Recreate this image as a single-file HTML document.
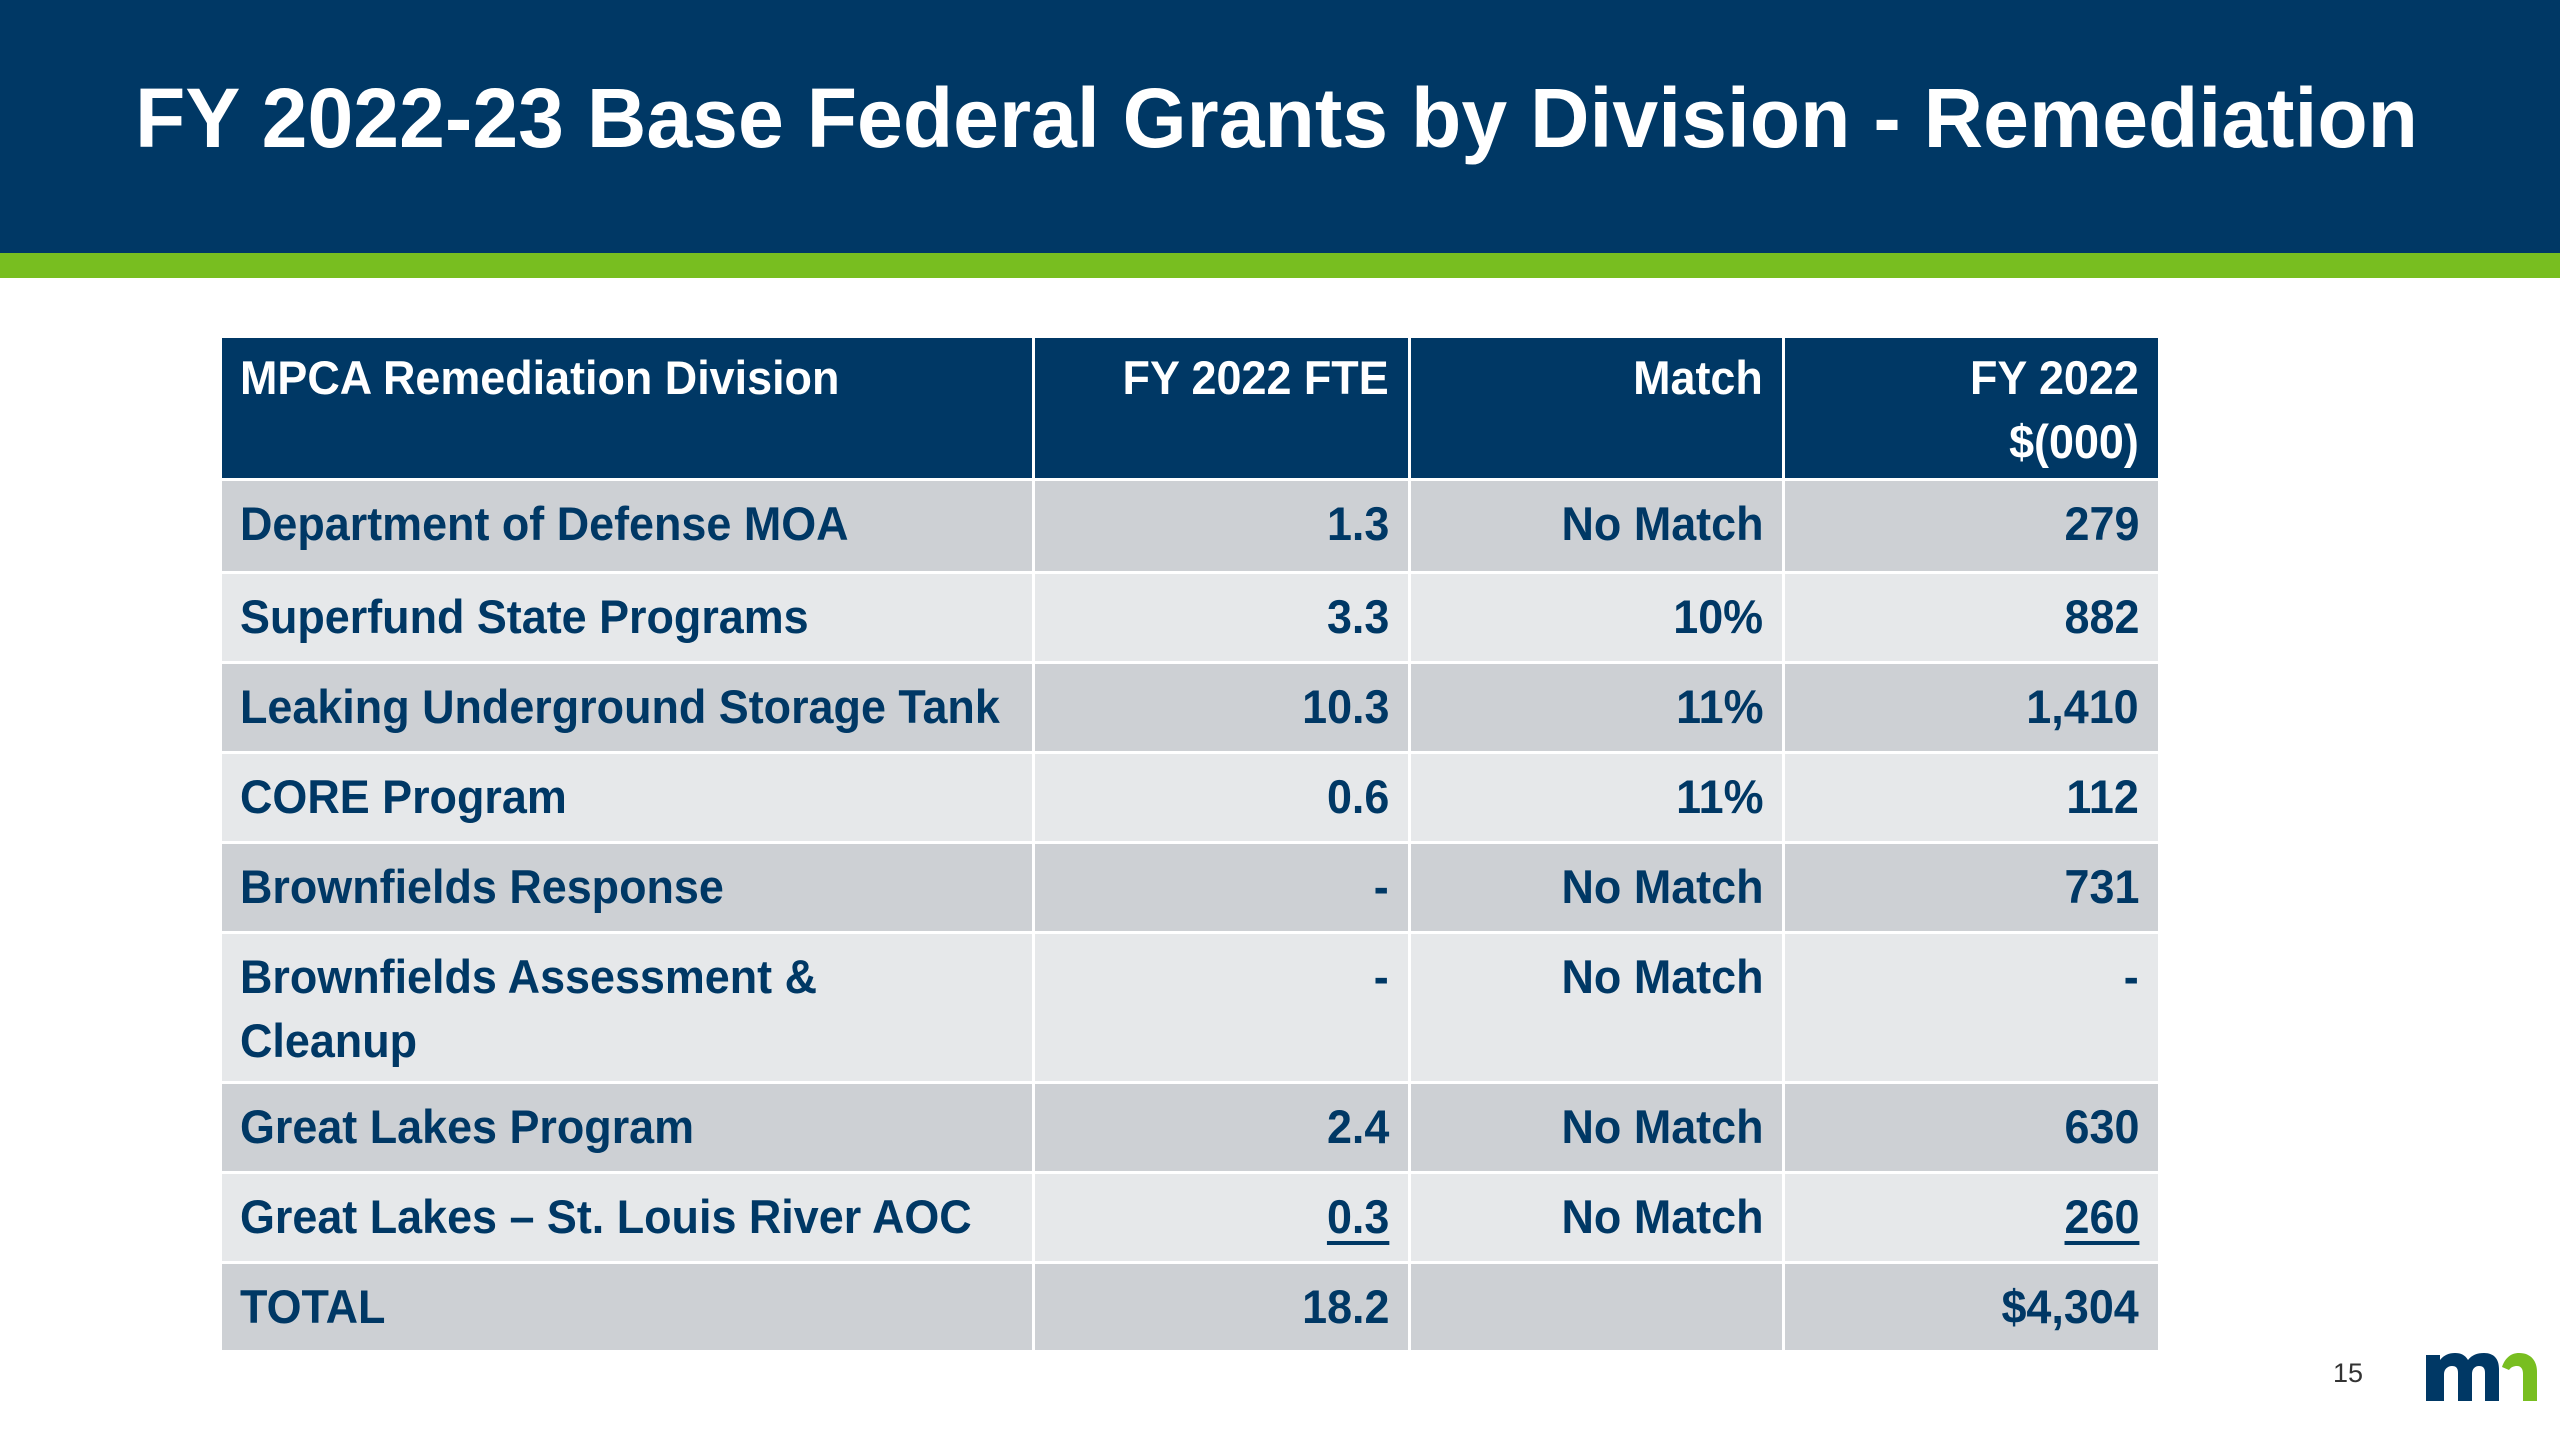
<!DOCTYPE html>
<html><head><meta charset="utf-8">
<style>
html,body{margin:0;padding:0;width:2560px;height:1440px;background:#fff;overflow:hidden;font-family:"Liberation Sans",sans-serif;}
#hdr{position:absolute;left:0;top:0;width:2560px;height:253px;background:#003865;}
#grn{position:absolute;left:0;top:253px;width:2560px;height:25px;background:#78be20;}
#title{position:absolute;left:135px;top:68px;color:#fff;font-weight:bold;font-size:84px;line-height:100px;white-space:nowrap;transform-origin:0 0;}
.cell{position:absolute;box-sizing:border-box;color:#003865;font-weight:bold;font-size:47px;line-height:64px;padding:11px 19px 0 18px;overflow:visible;white-space:nowrap;}
.cell span{display:inline-block;transform:scaleX(0.955);}
.l span{transform-origin:0 0;}
.r{text-align:right;}
.r span{transform-origin:100% 0;}
.h{background:#003865;color:#fff;padding-top:8px;}
.u span{text-decoration:underline;text-decoration-thickness:4px;text-underline-offset:8px;}
#pg{position:absolute;left:2333px;top:1358px;font-size:27px;color:#333;}
</style></head><body>
<div id="hdr"></div>
<div id="grn"></div>
<div id="title">FY 2022-23 Base Federal Grants by Division - Remediation</div>
<div id="tbl"></div>
<div id="pg">15</div>
<svg style="position:absolute;left:2424px;top:1345px" width="115" height="58" viewBox="0 0 115 58">
<path d="M2 56V10h14v5c4-5 9-7 15-7 6 0 10 2 13 7 4-5 9-7 16-7 10 0 15 6 15 16v32H61V28c0-5-2-7-6-7s-7 3-7 8v27H34V28c0-5-2-7-6-7s-8 3-8 8v27z" fill="#003865"/>
<path d="M78 22c3-9 9-14 17-14 12 0 18 8 18 19v29H99V29c0-5-2-8-6-8-3 0-6 1-8 4z" fill="#78be20"/>
</svg>
<script>
const headers=["MPCA Remediation Division","FY 2022 FTE","Match","FY 2022<br>$(000)"];
const divisions=["Department of Defense MOA","Superfund State Programs","Leaking Underground Storage Tank","CORE Program","Brownfields Response","Brownfields Assessment &amp;<br>Cleanup","Great Lakes Program","Great Lakes – St. Louis River AOC","TOTAL"];
const fte=["1.3","3.3","10.3","0.6","-","-","2.4","0.3","18.2"];
const match=["No Match","10%","11%","11%","No Match","No Match","No Match","No Match",""];
const dollars=["279","882","1,410","112","731","-","630","260","$4,304"];
const underlined=[7];
const tbl=document.getElementById('tbl');
const colX=[222,1035,1411,1785,2158];
const rowTops=[338,481,574,664,754,844,934,1084,1174,1264];
const rowH=[140,90,87,87,87,87,147,87,87,86];
function mk(txt,ci,ri,cls,bg){
  const d=document.createElement('div');
  
  
  d.className='cell '+cls;
  d.style.left=colX[ci]+'px';
  d.style.top=rowTops[ri]+'px';
  d.style.width=(colX[ci+1]-colX[ci]-(ci===3?0:3))+'px';
  d.style.height=rowH[ri]+'px';
  if(bg)d.style.background=bg;
  d.innerHTML='<span>'+txt+'</span>';
  tbl.appendChild(d);
}
headers.forEach((h,i)=>mk(h,i,0,'h '+(i===0?'l':'r'),null));
divisions.forEach((name,i)=>{
  const bg=i%2===0?'#cdd0d4':'#e6e8ea';
  const u=underlined.includes(i)?' u':'';
  mk(name,0,i+1,'l',bg);
  mk(fte[i],1,i+1,'r'+u,bg);
  mk(match[i],2,i+1,'r',bg);
  mk(dollars[i],3,i+1,'r'+u,bg);
});
const t=document.getElementById('title');
const w=t.getBoundingClientRect().width;
t.style.transform='scaleX('+(2283/w)+')';
</script>
</body></html>
